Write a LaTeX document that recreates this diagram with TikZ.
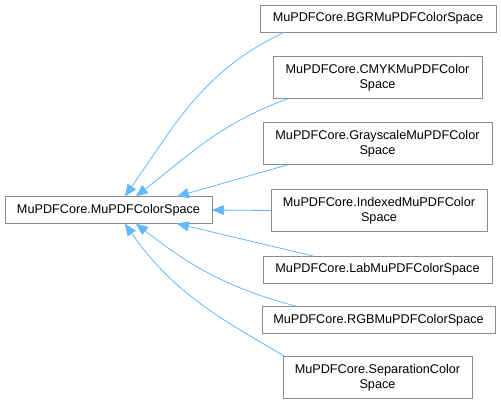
\documentclass[tikz,border=0pt]{standalone}
\usepackage{fontspec}
\setmainfont{Liberation Sans}
\usetikzlibrary{arrows.meta,calc}
\definecolor{edgeblue}{HTML}{63B8FF}
\definecolor{boxgray}{HTML}{8C8C8C}
\tikzset{
    cls/.style={draw=boxgray, fill=white, inner sep=0pt, minimum height=20pt,
        align=center, font=\fontsize{9.5}{11.5}\selectfont},
    cls2/.style={cls, minimum height=31.5pt},
    inherit/.style={draw=edgeblue, line width=0.6pt, -{Triangle[length=9pt,width=7.5pt]}},
}
\begin{document}
\begin{tikzpicture}[x=0.75pt,y=-0.75pt]
    \useasboundingbox (0,0) rectangle (501,405);
    % base class
    \node[cls, minimum width=155pt] (base) at (108.5,210) {MuPDFCore.MuPDFColorSpace};
    % derived classes
    \node[cls, minimum width=177pt] (bgr) at (378,18.5) {MuPDFCore.BGRMuPDFColorSpace};
    \node[cls2, minimum width=156.75pt] (cmyk) at (377.5,77.5) {MuPDFCore.CMYKMuPDFColor\\Space};
    \node[cls2, minimum width=171.75pt] (gray) at (377.5,143.5) {MuPDFCore.GrayscaleMuPDFColor\\Space};
    \node[cls2, minimum width=162pt] (indexed) at (379,210.5) {MuPDFCore.IndexedMuPDFColor\\Space};
    \node[cls, minimum width=171.75pt] (lab) at (377.5,269.5) {MuPDFCore.LabMuPDFColorSpace};
    \node[cls, minimum width=174.75pt] (rgb) at (378.5,320) {MuPDFCore.RGBMuPDFColorSpace};
    \node[cls2, minimum width=141.75pt] (sep) at (377.5,377.5) {MuPDFCore.SeparationColor\\Space};
    % inheritance arrows
    \draw[inherit] ($(bgr.south west)+(25,0)$) to[out=205,in=55] ($(base.north west)+(120,0)$);
    \draw[inherit] ($(cmyk.south west)+(15,0)$) to[out=200,in=38] ($(base.north west)+(131,0)$);
    \draw[inherit] ($(gray.south west)+(25,0)$) -- ($(base.north west)+(172,0)$);
    \draw[inherit] (indexed.west) -- (base.east);
    \draw[inherit] ($(lab.north west)+(50,0)$) -- ($(base.south west)+(172,0)$);
    \draw[inherit] ($(rgb.north west)+(35,0)$) to[out=165,in=-38] ($(base.south west)+(131,0)$);
    \draw[inherit] ($(sep.north west)+(2,0)$) to[out=150,in=-55] ($(base.south west)+(120,0)$);
\end{tikzpicture}
\end{document}
